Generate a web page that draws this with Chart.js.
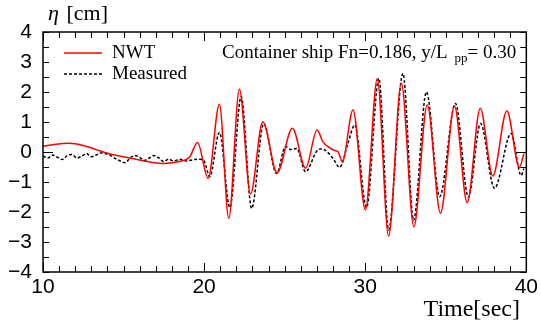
<!DOCTYPE html>
<html lang="en">
<head>
    <meta charset="UTF-8">
    <title>Wave elevation</title>
    <script src="https://cdn.jsdelivr.net/npm/chart.js"></script>
    <style>
        html, body { margin: 0; padding: 0; background: #fff; }
        #wrap { width: 541px; height: 322px; }
    </style>
</head>
<body>
    <div id="wrap"><canvas id="waveChart" width="541" height="322"></canvas></div>

    <script>
        // NWT (red, solid)
        const nwtTime = [10.0, 10.8, 11.6, 12.5, 13.3, 14.0, 15.0, 16.0, 16.8, 17.5, 18.0, 18.5, 19.1, 19.59,
            20.25, 20.95, 21.53, 22.19, 22.88, 23.64, 24.53, 25.48, 26.3, 27.01, 27.38, 27.69, 28.1, 28.31, 28.58,
            29.24, 30.01, 30.75, 31.45, 32.24, 33.02, 33.85, 34.67, 35.54, 36.33, 37.14, 37.92, 38.79, 39.57, 39.85];
        const nwtEta = [0.19, 0.26, 0.29, 0.22, 0.08, -0.04, -0.16, -0.27, -0.35, -0.38, -0.36, -0.31, -0.17, 0.32,
            -0.88, 1.59, -2.21, 2.09, -1.4, 1.01, -0.69, 0.79, -0.54, 0.73, 0.34, 0.18, 0.05, 0.01, -0.32,
            1.4, -1.93, 2.44, -2.8, 2.29, -2.49, 1.57, -2.04, 1.53, -1.69, 1.46, -0.8, 1.37, -0.51, -0.05];

        // Measured (black, dashed)
        const measTime = [10.0, 10.3, 10.6, 10.9, 11.2, 11.5, 11.8, 12.1, 12.4, 12.7, 13.0, 13.3, 13.6, 13.9, 14.2, 14.5,
            14.8, 15.1, 15.4, 15.7, 16.0, 16.3, 16.6, 16.9, 17.2, 17.5, 17.8, 18.1, 18.5, 18.9, 19.3, 19.7, 20.0,
            20.35, 20.95, 21.6, 22.3, 22.95, 23.7, 24.5, 25.05, 25.4, 25.75, 26.3, 26.97, 27.2, 27.48, 28.0,
            28.41, 28.93, 29.35, 30.08, 30.85, 31.45, 32.34, 33.0, 33.8, 34.62, 35.6, 36.4, 37.16, 38.02,
            39.06, 39.68, 39.85];
        const measEta = [-0.13, -0.2, -0.1, -0.18, -0.25, -0.12, -0.08, -0.2, -0.14, -0.05, -0.16, -0.1, -0.03, -0.06, -0.12, -0.22,
            -0.3, -0.36, -0.2, -0.12, -0.18, -0.28, -0.2, -0.12, -0.2, -0.32, -0.24, -0.3, -0.24, -0.3, -0.26, -0.24, -0.3,
            -0.82, 0.65, -1.85, 1.85, -1.88, 0.95, -0.72, 0.18, 0.08, 0.12, -0.66, 0.01, 0.1, 0.07, -0.21,
            -0.51, 0.29, 0.9, -1.85, 2.45, -2.6, 2.62, -2.27, 2.0, -1.49, 1.62, -1.5, 0.95, -1.21,
            0.62, -0.78, -0.55];

        const timeTicks = [10, 20, 30, 40];
        const etaTicks = [-4, -3, -2, -1, 0, 1, 2, 3, 4];

        const serif = '"Liberation Serif", "Times New Roman", serif';
        const sans = '"Liberation Sans", Arial, sans-serif';

        function toPoints(xs, ys) {
            return xs.map((x, i) => ({ x: x, y: ys[i] }));
        }

        // frame, inward ticks, legend and annotations
        const framePlugin = {
            id: 'frame',
            afterDatasetsDraw(chart) {
                const ctx = chart.ctx;
                const a = chart.chartArea;
                const xs = chart.scales.x;
                const ys = chart.scales.y;
                ctx.save();
                ctx.strokeStyle = '#000';
                ctx.lineWidth = 1.5;
                ctx.strokeRect(a.left, a.top, a.right - a.left, a.bottom - a.top);

                ctx.lineWidth = 1;
                ctx.beginPath();
                for (let t = 10; t <= 40; t++) {
                    const px = Math.round(xs.getPixelForValue(t)) + 0.5;
                    const len = (t % 10 === 0) ? 9 : 6;
                    ctx.moveTo(px, a.bottom); ctx.lineTo(px, a.bottom - len);
                    ctx.moveTo(px, a.top); ctx.lineTo(px, a.top + len);
                }
                for (let v = -4; v <= 4; v += 0.5) {
                    const py = Math.round(ys.getPixelForValue(v)) + 0.5;
                    const len = (v === 0) ? 10 : 6;
                    ctx.moveTo(a.left, py); ctx.lineTo(a.left + len, py);
                    ctx.moveTo(a.right, py); ctx.lineTo(a.right - len, py);
                }
                ctx.stroke();

                // legend
                const ds = chart.data.datasets;
                ctx.font = '19px ' + serif;
                ctx.textBaseline = 'middle';
                ctx.textAlign = 'left';
                const rows = [53, 74];
                ds.forEach((d, i) => {
                    ctx.strokeStyle = d.borderColor;
                    ctx.lineWidth = d.borderWidth;
                    ctx.setLineDash(d.borderDash || []);
                    ctx.beginPath();
                    ctx.moveTo(64, rows[i]); ctx.lineTo(102, rows[i]);
                    ctx.stroke();
                    ctx.setLineDash([]);
                    ctx.fillStyle = '#000';
                    ctx.fillText(d.label, 112, rows[i]);
                });

                // case annotation
                ctx.font = '19px ' + serif;
                ctx.fillStyle = '#000';
                const main = 'Container ship Fn=0.186, y/L';
                ctx.fillText(main, 222, 53);
                let x = 222 + ctx.measureText(main).width + 7;
                ctx.font = '13px ' + serif;
                ctx.fillText('pp', x, 59);
                x += ctx.measureText('pp').width;
                ctx.font = '19px ' + serif;
                ctx.fillText('= 0.30', x, 53);

                // axis titles
                ctx.font = 'italic 22px ' + serif;
                ctx.fillText('\u03b7', 48, 14);
                ctx.font = '22px ' + serif;
                ctx.fillText(' [cm]', 48 + 13, 14);
                ctx.textAlign = 'right';
                ctx.font = '24px ' + serif;
                ctx.fillText('Time[sec]', 520, 310);
                ctx.restore();
            }
        };

        new Chart(document.getElementById('waveChart'), {
            type: 'line',
            data: {
                datasets: [
                    {
                        label: 'NWT',
                        data: toPoints(nwtTime, nwtEta),
                        borderColor: '#ff0000',
                        borderWidth: 1.5,
                        pointRadius: 0,
                        cubicInterpolationMode: 'monotone',
                        fill: false
                    },
                    {
                        label: 'Measured',
                        data: toPoints(measTime, measEta),
                        borderColor: '#000000',
                        borderWidth: 1.5,
                        borderDash: [3, 2],
                        pointRadius: 0,
                        cubicInterpolationMode: 'monotone',
                        fill: false
                    }
                ]
            },
            options: {
                responsive: false,
                animation: false,
                layout: { padding: { top: 32, right: 14, left: 0, bottom: 0 } },
                plugins: { legend: { display: false }, tooltip: { enabled: false } },
                scales: {
                    x: {
                        type: 'linear',
                        min: 10, max: 40,
                        afterBuildTicks: s => { s.ticks = timeTicks.map(v => ({ value: v })); },
                        afterFit: s => { s.height = 50; },
                        grid: { display: false, drawTicks: false },
                        border: { display: false },
                        ticks: { color: '#000', font: { family: sans, size: 21 }, padding: 3, maxRotation: 0 }
                    },
                    y: {
                        type: 'linear',
                        min: -4, max: 4,
                        afterBuildTicks: s => { s.ticks = etaTicks.map(v => ({ value: v })); },
                        afterFit: s => { s.width = 43; },
                        grid: { display: false, drawTicks: false },
                        border: { display: false },
                        ticks: {
                            color: '#000', font: { family: sans, size: 21 }, padding: 11,
                            callback: v => String(v).replace('-', '\u2212')
                        }
                    }
                }
            },
            plugins: [framePlugin]
        });
    </script>
</body>
</html>
